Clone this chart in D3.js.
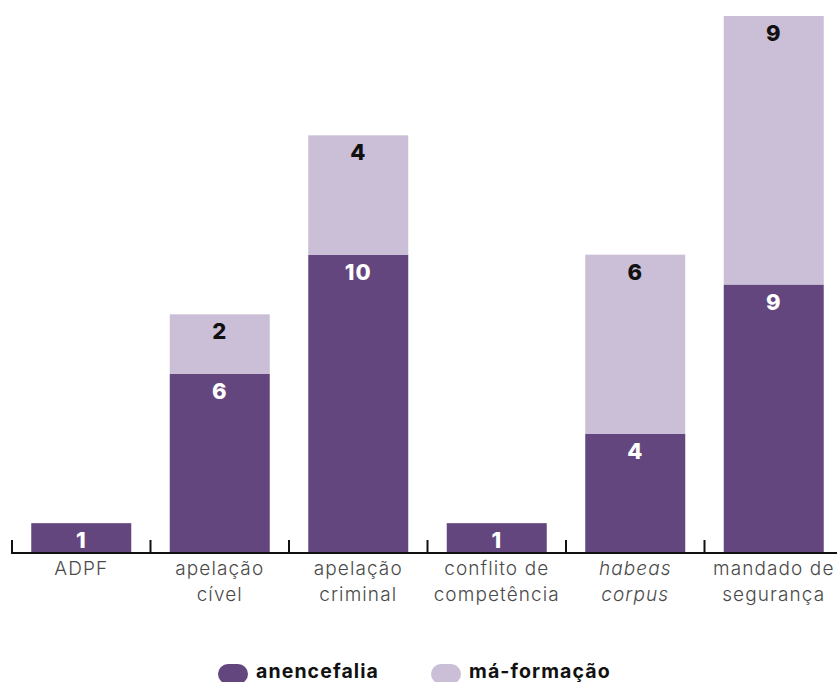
<!DOCTYPE html>
<html><head><meta charset="utf-8">
<script src="https://cdn.jsdelivr.net/npm/d3@7"></script>
<style>body{margin:0;background:#fff}svg{display:block}</style>
</head><body>
<svg id="c" width="837" height="682"></svg>
<script>
const categories = [["ADPF"],["apelação","cível"],["apelação","criminal"],["conflito de","competência"],["habeas","corpus"],["mandado de","segurança"]];
const italicCats = [false,false,false,false,true,false];
const anencefalia = [1,6,10,1,4,9];
const maFormacao = [0,2,4,0,6,9];
const seriesNames = ["anencefalia","má-formação"];
const colors = ["#64467e","#cbbfd8"];
const labelColors = ["#ffffff","#111111"];

const svg = d3.select("#c");
const font = "Inter, 'Noto Sans', sans-serif";
const keys = categories.map(c => c.join(" "));
const x = d3.scaleBand().domain(keys).range([12, 843]).paddingInner(0.278).paddingOuter(0.139);
const y = d3.scaleLinear().domain([0, 18]).range([553, 16]);

const rows = keys.map((k,i) => ({key:k, a:anencefalia[i], m:maFormacao[i]}));
const stack = d3.stack().keys(["a","m"])(rows);

stack.forEach((s, si) => {
  const g = svg.append("g");
  g.selectAll("rect").data(s.filter(d => d[1]-d[0] > 0)).join("rect")
    .attr("x", d => x(d.data.key)).attr("width", x.bandwidth())
    .attr("y", d => y(d[1])).attr("height", d => y(d[0]) - y(d[1]))
    .attr("fill", colors[si]);
  g.selectAll("text").data(s.filter(d => d[1]-d[0] > 0)).join("text")
    .attr("x", d => x(d.data.key) + x.bandwidth()/2)
    .attr("y", d => y(d[1]) + 25)
    .attr("text-anchor","middle").attr("font-family", font).attr("font-weight", 800)
    .attr("font-size", 22).attr("letter-spacing", 1).attr("fill", labelColors[si])
    .text(d => d[1]-d[0]);
});

// axis
const step = x.step();
const tickXs = keys.map(k => x(k) - (step - x.bandwidth())/2);
svg.append("line").attr("x1", 12).attr("x2", 837).attr("y1", 553).attr("y2", 553)
  .attr("stroke","#111").attr("stroke-width",2);
svg.selectAll("line.tick").data(tickXs).join("line").attr("class","tick")
  .attr("x1", d => d).attr("x2", d => d).attr("y1", 540).attr("y2", 554)
  .attr("stroke","#111").attr("stroke-width",2);

// category labels
categories.forEach((lines, i) => {
  const cx = x(keys[i]) + x.bandwidth()/2;
  const t = svg.append("text").attr("x", cx).attr("y", 575)
    .attr("text-anchor","middle").attr("font-family", font).attr("font-weight", 300)
    .attr("font-size", 19).attr("letter-spacing", 1.1).attr("fill","#4a4a4a")
    .attr("font-style", italicCats[i] ? "italic" : "normal");
  lines.forEach((l, j) => t.append("tspan").attr("x", cx).attr("dy", j ? 26 : 0).text(l));
});

// legend
const legX = [218, 431];
seriesNames.forEach((n, i) => {
  svg.append("rect").attr("x", legX[i]).attr("y", 664).attr("width", 30).attr("height", 20)
    .attr("rx", 10).attr("fill", colors[i]);
  svg.append("text").attr("x", legX[i] + 38).attr("y", 678).attr("font-family", font)
    .attr("font-weight", 700).attr("font-size", 19.5).attr("letter-spacing", 1.1).attr("fill","#111").text(n);
});
</script>
</body></html>
